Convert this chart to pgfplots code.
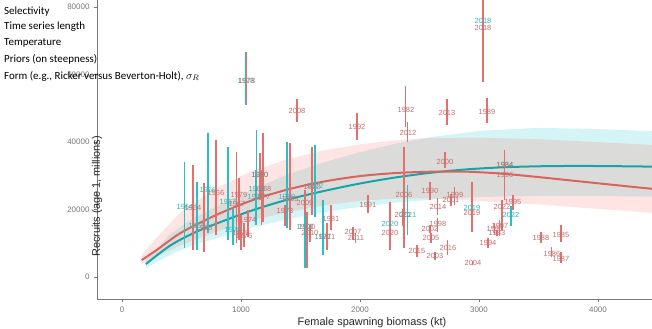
\documentclass[border=0pt]{standalone}
\usepackage{fontspec}
\setmainfont{Liberation Sans}
\newfontfamily\calibri{Carlito}
\usepackage{pgfplots}
\pgfplotsset{compat=1.18}
\usepackage{pgfplotstable}

\definecolor{redline}{RGB}{215,100,95}
\definecolor{tealline}{RGB}{20,165,168}
\definecolor{redbar}{RGB}{228,112,108}
\definecolor{tealbar}{RGB}{40,192,196}
\definecolor{redtxt}{RGB}{195,110,110}
\definecolor{tealtxt}{RGB}{45,185,190}
\definecolor{redfill}{RGB}{248,118,109}
\definecolor{tealfill}{RGB}{0,191,196}
\definecolor{axgray}{RGB}{120,120,120}

\pgfplotstableread{
x y lo hi lab
529 20740 8590 34070 1964
630 15110 8000 28150 1965
723 25780 13040 42670 1966
891 22220 10960 38520 1967
933 13930 9500 20000 1975
1042 58070 50960 66670 1978
1126 23700 15410 31700 1977
1134 26070 16000 43560 1968
1160 30220 22810 36740 1980
1387 23700 14520 40000 1969
1538 14810 2670 19260 1970
1622 26960 17780 39110 1972
1689 11850 6520 22810 1971
2252 15700 8000 22220 2020
2403 18370 12440 27260 2021
2941 20440 13930 28150 2019
3034 75850 57780 95000 2018
3218 33190 22810 37630 1984
3269 18370 15000 21000 2022
}\tealpts

\pgfplotstableread{
x y lo hi lab
597 20440 8000 33190 1964
689 14520 7410 27850 1965
790 24890 12440 40590 1966
966 21630 10070 37040 1967
983 24300 10960 29330 1979
1000 13040 8000 18370 1975
1025 12150 9000 16000 1976
1050 58070 50960 66670 1978
1059 16890 11850 19850 1974
1160 30220 22810 36740 1980
1176 23700 15410 31700 1977
1185 26070 16300 42670 1968
1370 19560 15000 21330 1973
1412 23110 13930 39700 1969
1471 49190 45930 52740 2008
1538 21930 18370 25780 2009
1555 14810 2670 19260 1970
1580 13040 10500 15400 2010
1597 26670 18370 38520 1972
1723 11850 8000 16000 1971
1756 17190 13930 21330 1981
1941 13330 10960 14810 2007
1966 11560 10000 13000 2011
1975 44440 40590 48590 1992
2067 21330 18960 24300 1991
2252 13040 8000 22220 2020
2361 18370 15000 20000 2021
2370 24300 8590 38520 2006
2386 49480 44440 56590 1982
2403 42670 40000 45930 2012
2479 7700 5930 9480 2015
2588 25480 22810 28150 1990
2588 14220 13000 15400 2002
2597 11560 10070 13040 2005
2630 6220 5040 7410 2003
2655 20740 18370 23410 2014
2655 15700 13330 17480 1998
2714 34070 32300 37040 2000
2731 48590 45040 52740 2013
2739 8590 6520 10960 2016
2765 22810 21000 24500 2001
2798 24300 21330 26670 1999
2941 18960 13330 28150 2019
2949 4150 3600 4700 2004
3034 73780 57780 95000 2018
3067 48890 45630 53040 1989
3076 10070 8590 11560 1994
3134 14220 12500 16000 1993
3151 13040 12000 14000 1983
3176 15110 12150 16890 1997
3193 20740 13930 22810 2022
3218 33190 22810 37630 1984
3218 30220 28500 31800 1996
3286 22220 19850 24300 1995
3521 11560 10070 13330 1988
3613 6810 5930 8890 1986
3689 12440 10370 15410 1985
3689 5330 4150 7410 1987
}\redpts

\pgfplotstableread{
x y
165 5000
300 8200
500 13200
800 18500
1100 22800
1400 26000
1700 28300
2000 29900
2300 30800
2600 31200
2900 31200
3200 30600
3500 29600
3800 28500
4100 27400
4460 26100
}\redcurve

\pgfplotstableread{
x y
200 3800
400 9200
600 13000
800 15900
1100 19800
1400 23000
1700 25500
2000 27700
2300 29500
2600 30900
2900 31900
3200 32500
3500 32800
3800 32900
4100 32850
4460 32700
}\tealcurve

\begin{document}
\begin{tikzpicture}
\begin{axis}[
  at={(97bp,30bp)}, anchor=south west,
  scale only axis, width=555bp, height=299bp,
  xmin=-210, xmax=4454, ymin=-6520, ymax=82070,
  axis x line*=bottom, axis y line*=left,
  axis line style={draw=axgray, line width=0.6bp},
  tick style={draw=axgray, line width=0.6bp},
  tick align=outside, major tick length=3bp,
  xtick={0,1000,2000,3000,4000},
  ytick={0,20000,40000,60000,80000},
  scaled x ticks=false, scaled y ticks=false,
  /pgf/number format/assume math mode=true,
  /pgf/number format/fixed,
  /pgf/number format/1000 sep={},
  ticklabel style={font=\fontsize{8}{9}\selectfont, text=axgray},
  xticklabel style={yshift=-1bp},
  yticklabel style={xshift=-1bp},
  xlabel={Female spawning biomass (kt)},
  ylabel={Recruits (age 1, millions)},
  label style={font=\fontsize{11}{13}\selectfont, text=black!85},
  xlabel style={at={(axis description cs:0.4955,0)}, anchor=center, yshift=-24bp},
  ylabel style={at={(axis description cs:0,0.5)}, anchor=center, rotate=0, xshift=-47bp},
  clip=true,
]
% ribbons
\addplot[draw=none, fill=tealfill, fill opacity=0.17] coordinates {
 (200,5000) (400,12500) (600,17500) (800,21000) (1100,26000) (1400,30500) (1700,34000) (2000,37000) (2300,39500) (2600,41500) (3000,43300) (3500,44200) (4000,43800) (4460,43200)
 (4460,23800) (4000,24000) (3500,24000) (3000,23700) (2600,22900) (2300,22000) (2000,20800) (1700,19200) (1400,17200) (1100,14700) (800,11500) (600,9500) (400,6500) (200,2600)
} -- cycle;
\addplot[draw=none, fill=redfill, fill opacity=0.2] coordinates {
 (165,6500) (300,12000) (500,19500) (800,26500) (1100,31500) (1400,35000) (1700,37500) (2000,39300) (2300,40500) (2600,41200) (3000,41300) (3500,40800) (4000,40000) (4460,39100)
 (4460,19000) (4000,20200) (3500,21500) (3000,22500) (2600,23300) (2300,23200) (2000,22600) (1700,21200) (1400,19300) (1100,16800) (800,13500) (500,9500) (300,6200) (165,3800)
} -- cycle;
% fitted curves
\addplot[tealline, line width=2bp, smooth] table {\tealcurve};
\addplot[redline, line width=2bp, smooth] table {\redcurve};
% teal points
\addplot[draw=none, mark=none,
  nodes near coords, point meta=explicit symbolic,
  every node near coord/.append style={font=\fontsize{7.5}{8}\selectfont, text=tealtxt, anchor=center, inner sep=0pt},
  error bars/.cd, y dir=both, y explicit, error mark=none,
  error bar style={draw=tealbar, line width=1.1bp}]
  table[x=x, y=y, meta=lab, y error plus expr=\thisrow{hi}-\thisrow{y}, y error minus expr=\thisrow{y}-\thisrow{lo}] {\tealpts};
% red points
\addplot[draw=none, mark=none,
  nodes near coords, point meta=explicit symbolic,
  every node near coord/.append style={font=\fontsize{7.5}{8}\selectfont, text=redtxt, anchor=center, inner sep=0pt},
  error bars/.cd, y dir=both, y explicit, error mark=none,
  error bar style={draw=redbar, line width=1.1bp}]
  table[x=x, y=y, meta=lab, y error plus expr=\thisrow{hi}-\thisrow{y}, y error minus expr=\thisrow{y}-\thisrow{lo}] {\redpts};
\end{axis}
\begin{scope}[every node/.style={anchor=west, inner sep=0pt, font=\calibri\fontsize{11}{13}\selectfont, text=black}]
\node at (4bp,317.3bp) {Selectivity};
\node at (4bp,302.3bp) {Time series length};
\node at (4bp,286.3bp) {Temperature};
\node at (4bp,269.7bp) {Priors (on steepness)};
\node at (4bp,253bp) {Form (e.g., Ricker versus Beverton-Holt), $\sigma_R$};
\end{scope}
\pgfresetboundingbox
\path (0,0) rectangle (652bp,329bp);
\end{tikzpicture}
\end{document}
